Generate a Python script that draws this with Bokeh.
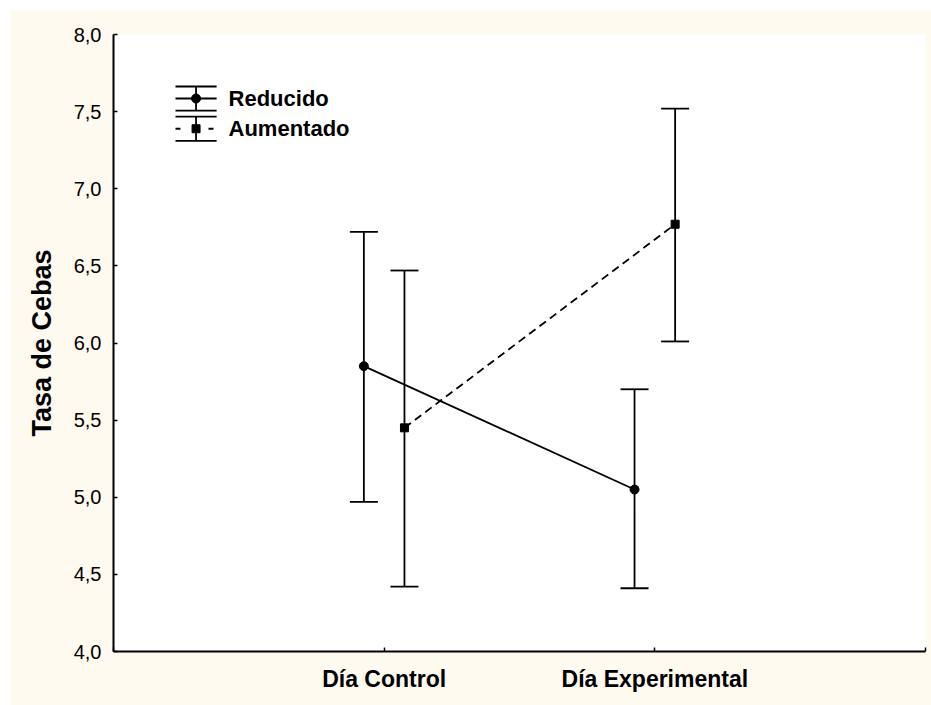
from bokeh.plotting import figure
from bokeh.models import ColumnDataSource, Whisker, FixedTicker, Range1d, TeeHead
from bokeh.core.properties import value
from bokeh.embed import file_html
from bokeh.resources import INLINE
import numpy as np

# ---------------- data ----------------
days = ["Día Control", "Día Experimental"]
day_pos = [1, 2]
groups = ["Reducido", "Aumentado"]

reducido_mean = [5.85, 5.05]
reducido_upper = [6.72, 5.70]
reducido_lower = [4.97, 4.41]

aumentado_mean = [5.45, 6.77]
aumentado_upper = [6.47, 7.52]
aumentado_lower = [4.42, 6.01]

y_ticks = [4.0, 4.5, 5.0, 5.5, 6.0, 6.5, 7.0, 7.5, 8.0]
y_tick_labels = ["4,0", "4,5", "5,0", "5,5", "6,0", "6,5", "7,0", "7,5", "8,0"]
x_ticks = [0, 1, 2, 3]
y_title = "Tasa de Cebas"

# ---------------- style ----------------
FONT = "Liberation Sans"
CREAM = "#FFFAF0"
OFFSET = 0.075
LW = 1.8

p = figure(width=921, height=695,
           x_range=Range1d(0, 3), y_range=Range1d(4, 8),
           output_backend="svg", toolbar_location=None,
           min_border_left=103, min_border_top=24,
           min_border_bottom=54, min_border_right=6,
           background_fill_color="white", border_fill_color=CREAM,
           outline_line_color=None,
           styles={"margin-left": "10px", "margin-top": "10px"})
p.grid.visible = False

# x axis
p.xaxis.ticker = FixedTicker(ticks=x_ticks)
overrides_x = {t: "" for t in x_ticks}
for pos, lab in zip(day_pos, days):
    overrides_x[pos] = lab
p.xaxis.major_label_overrides = overrides_x
p.xaxis.major_label_text_font = FONT
p.xaxis.major_label_text_font_style = "bold"
p.xaxis.major_label_text_font_size = "23px"
p.xaxis.major_label_text_color = "black"
p.xaxis.major_label_standoff = 14

# y axis
p.yaxis.ticker = FixedTicker(ticks=y_ticks)
p.yaxis.major_label_overrides = {t: l for t, l in zip(y_ticks, y_tick_labels)}
p.yaxis.major_label_text_font = FONT
p.yaxis.major_label_text_font_size = "20px"
p.yaxis.major_label_text_color = "black"
p.yaxis.major_label_standoff = 12
p.yaxis.axis_label = y_title
p.yaxis.axis_label_text_font = FONT
p.yaxis.axis_label_text_font_style = "bold"
p.yaxis.axis_label_text_font_size = "27px"
p.yaxis.axis_label_text_color = "black"
p.yaxis.axis_label_standoff = 14

for ax in (p.xaxis, p.yaxis):
    ax.axis_line_color = "black"
    ax.axis_line_width = 2
    ax.major_tick_line_color = "black"
    ax.major_tick_line_width = 1.5
    ax.major_tick_in = 4
    ax.major_tick_out = 0
    ax.minor_tick_line_color = None

# ---------------- marks ----------------
x_red = np.array(day_pos) - OFFSET
x_aum = np.array(day_pos) + OFFSET

src_red = ColumnDataSource(dict(x=x_red, mean=reducido_mean,
                                upper=reducido_upper, lower=reducido_lower))
src_aum = ColumnDataSource(dict(x=x_aum, mean=aumentado_mean,
                                upper=aumentado_upper, lower=aumentado_lower))

for src in (src_red, src_aum):
    w = Whisker(source=src, base="x", upper="upper", lower="lower",
                dimension="height", line_color="black", line_width=LW,
                upper_head=TeeHead(size=28, line_color="black", line_width=LW),
                lower_head=TeeHead(size=28, line_color="black", line_width=LW))
    p.add_layout(w)

p.line("x", "mean", source=src_red, line_color="black", line_width=LW)
p.line("x", "mean", source=src_aum, line_color="black", line_width=LW,
       line_dash="8 5")
p.scatter("x", "mean", source=src_red, marker="circle", size=9,
          fill_color="black", line_color="black")
p.scatter("x", "mean", source=src_aum, marker="square", size=8,
          fill_color="black", line_color="black")

# ---------------- legend (drawn as mini error-bar symbols) ----------------
LEG_X0, LEG_X1 = 0.229, 0.381
LEG_XC = (LEG_X0 + LEG_X1) / 2
LEG_TX = 0.425
LEG_ROWS = [7.585, 7.389]
CAP = 0.078
markers = ["circle", "square"]
sizes = [9, 8]
dashes = ["solid", "5 28"]

for label, yc, mk, sz, dash in zip(groups, LEG_ROWS, markers, sizes, dashes):
    p.segment(x0=[LEG_X0, LEG_X0], y0=[yc + CAP, yc - CAP],
              x1=[LEG_X1, LEG_X1], y1=[yc + CAP, yc - CAP],
              line_color="black", line_width=LW)
    p.segment(x0=[LEG_XC], y0=[yc - CAP], x1=[LEG_XC], y1=[yc + CAP],
              line_color="black", line_width=LW)
    p.segment(x0=[LEG_X0], y0=[yc], x1=[LEG_X1], y1=[yc],
              line_color="black", line_width=LW, line_dash=dash)
    p.scatter(x=[LEG_XC], y=[yc], marker=mk, size=sz,
              fill_color="black", line_color="black")
    p.text(x=[LEG_TX], y=[yc], text=[label], text_font=value(FONT),
           text_font_style="bold", text_font_size="22px",
           text_baseline="middle", text_align="left", text_color="black")

open("out.html", "w").write(file_html(p, INLINE))
